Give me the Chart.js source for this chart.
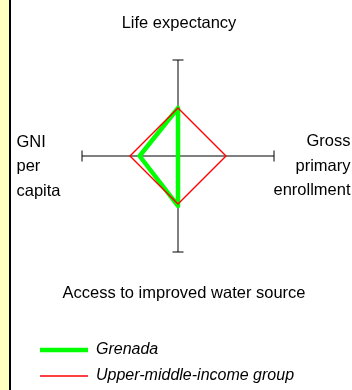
<!DOCTYPE html>
<html>
<head>
<meta charset="utf-8">
<title>Grenada radar</title>
<script src="https://cdn.jsdelivr.net/npm/chart.js@4.4.1/dist/chart.umd.min.js"></script>
<style>
  body { margin: 0; background: #fff; }
  .frame { display: flex; width: 352px; height: 390px; }
  .strip { width: 9px; background: #ffffc0; border-right: 2px solid #000; }
  .plot { width: 341px; height: 390px; }
</style>
</head>
<body>
<div class="frame">
  <div class="strip"></div>
  <div class="plot"><canvas id="chart" width="341" height="390"></canvas></div>
</div>
<script>
// axis names, clockwise from the top
const axes = [
  ['Life expectancy'],
  ['Gross', 'primary', 'enrollment'],
  ['Access to improved water source'],
  ['GNI', 'per', 'capita'],
]
const seriesNames = ['Grenada', 'Upper-middle-income group']
const grenada = [50, 0, 52, 40]
const upperMiddle = [50, 50, 50, 50]

const FONT = '"Liberation Sans", Arial, sans-serif'
Chart.defaults.font.family = FONT

// end caps on the axes + the axis names (placed like the original sheet)
const axisDecor = {
	id: 'axisDecor',
	beforeDatasetsDraw(chart) {
		const scale = chart.scales.r
		const ctx = chart.ctx
		ctx.save()
		ctx.strokeStyle = '#000'
		ctx.lineWidth = 1
		axes.forEach((_, i) => {
			const p = scale.getPointPosition(i, scale.drawingArea)
			const a = scale.getIndexAngle(i) - Math.PI / 2
			const dx = -Math.sin(a) * 5.5
			const dy = Math.cos(a) * 5.5
			ctx.beginPath()
			ctx.moveTo(p.x - dx, p.y - dy)
			ctx.lineTo(p.x + dx, p.y + dy)
			ctx.stroke()
		})
		ctx.restore()
	},
	afterDraw(chart) {
		const scale = chart.scales.r
		const { ctx, width } = chart
		const cx = scale.xCenter
		const cy = scale.yCenter
		const r = scale.drawingArea
		ctx.save()
		ctx.fillStyle = '#000'
		ctx.font = '16.5px ' + FONT
		ctx.textBaseline = 'alphabetic'
		ctx.textAlign = 'center'
		ctx.fillText(axes[0][0], cx + 1, cy - r - 32)
		ctx.fillText(axes[2][0], cx + 6, cy + r + 46)
		ctx.textAlign = 'right'
		axes[1].forEach((t, k) => ctx.fillText(t, width - 1.5, cy - 10 + k * 24.6))
		ctx.textAlign = 'left'
		axes[3].forEach((t, k) => ctx.fillText(t, 5.5, cy - 9.5 + k * 24.6))
		ctx.restore()
	},
}

new Chart(document.getElementById('chart'), {
	type: 'radar',
	data: {
		labels: axes,
		datasets: [
			{
				label: seriesNames[0],
				data: grenada,
				borderColor: '#00ff00',
				borderWidth: 4.5,
				borderJoinStyle: 'round',
				fill: false,
				pointRadius: 0,
				order: 1,
			},
			{
				label: seriesNames[1],
				data: upperMiddle,
				borderColor: '#ff0000',
				borderWidth: 1.4,
				fill: false,
				pointRadius: 0,
				order: 0,
			},
		],
	},
	options: {
		responsive: false,
		animation: false,
		layout: { padding: { left: 19, right: 26, top: 60, bottom: -4 } },
		elements: { line: { tension: 0 } },
		scales: {
			r: {
				min: 0,
				max: 100,
				ticks: { display: false },
				grid: { display: false },
				pointLabels: { display: false },
				angleLines: { color: '#000', lineWidth: 1 },
			},
		},
		plugins: {
			tooltip: { enabled: false },
			legend: {
				position: 'bottom',
				align: 'start',
				title: { display: true, text: '', padding: { top: 70, bottom: 0 }, font: { size: 10, lineHeight: 1 } },
				labels: {
					usePointStyle: true,
					pointStyle: 'line',
					pointStyleWidth: 48,
					padding: 10,
					color: '#000',
					font: { family: FONT, size: 16, style: 'italic' },
					sort: (a, b) => a.datasetIndex - b.datasetIndex,
				},
			},
		},
	},
	plugins: [axisDecor],
})
</script>
</body>
</html>
